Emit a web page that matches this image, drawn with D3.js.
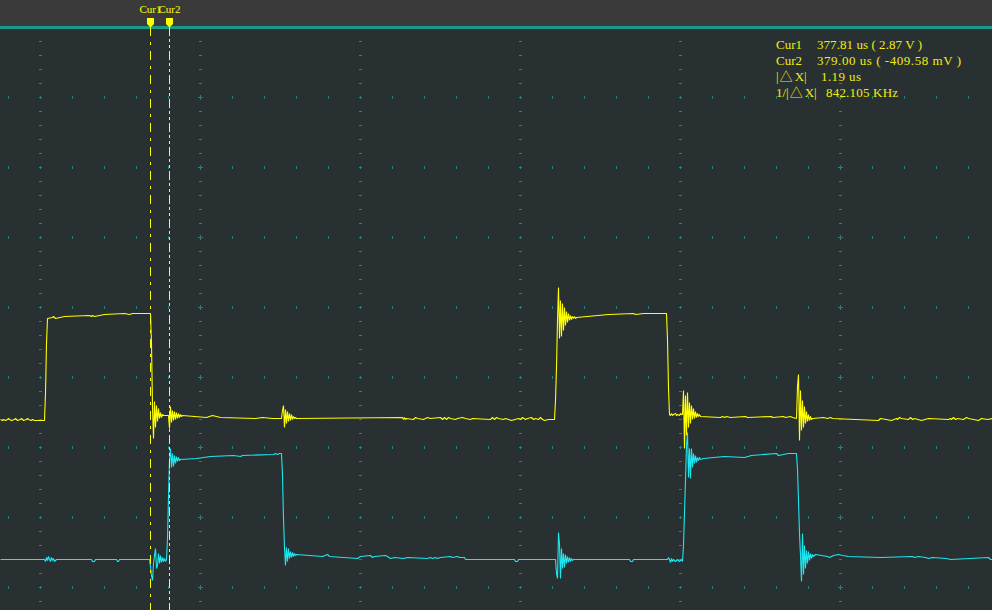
<!DOCTYPE html>
<html><head><meta charset="utf-8">
<script src="https://cdn.jsdelivr.net/npm/d3@7"></script>
<style>html,body{margin:0;padding:0;background:#293031;overflow:hidden}svg{display:block}</style>
</head><body><svg id="c" width="992" height="610"></svg>
<script>
// ---- Data: [sample index, ADC counts above channel ground] (35 counts = 1 V, 70 counts / div) ----
const ch1 = [[0,0],[2,-1],[3,0],[5,-1],[7,0],[8,1],[9,0],[11,-1],[14,0],[15,1],[16,0],[17,-1],[20,0],[21,1],[22,0],[23,-1],[26,0],[27,1],[28,0],[31,-1],[32,0],[34,-1],[44,-1],
[45,26],[46,76],[47,101],[52,102],[53,103],[54,102],[55,101],[64,103],[89,104],[91,103],[92,104],[94,103],[104,105],[124,106],[129,105],[132,106],[150,106],
[151,76],[152,13],[153,-19],[154,18],[155,-8],[156,14],[157,-2],[158,11],[159,1],[160,7],[161,2],[162,5],[163,4],[168,4],
[169,-9],[170,13],[171,-3],[172,9],[173,-1],[174,8],[175,0],[176,7],[177,1],[178,6],[179,2],[180,5],[181,3],[182,4],
[206,2],[212,4],[220,2],[255,1],[262,2],[272,1],[281,1],
[282,9],[283,14],[284,-8],[285,10],[286,-4],[287,8],[288,-2],[289,6],[290,-1],[291,5],[292,0],[293,3],[294,1],[295,2],[296,1],
[402,2],[403,0],[404,2],[405,0],[406,1],[413,0],[415,2],[417,1],[423,0],[425,1],[427,2],[430,1],[440,2],[442,0],[444,2],[446,0],[448,2],[450,1],[455,0],[457,1],[462,2],[465,1],[470,0],[472,1],
[490,0],[492,2],[494,0],[496,2],[498,1],[503,0],[505,1],[508,0],[511,-1],[518,1],[520,0],[522,2],[525,0],[527,1],[531,2],[533,0],[535,1],[538,0],[540,2],[542,0],[544,-1],[548,0],[554,0],
[555,19],[556,52],[557,99],[558,132],[559,81],[560,119],[561,83],[562,116],[563,89],[564,112],[565,94],[566,108],[567,97],[568,106],[569,99],[570,104],[571,100],[572,103],[573,101],[574,103],[575,101],[576,102],
[608,105],[633,106],[635,105],[643,106],[666,106],
[667,80],[668,31],[669,5],[670,4],[671,6],[672,4],[673,5],[675,6],[676,4],[677,5],[679,4],[680,6],[681,5],[682,5],
[683,29],[684,-29],[685,24],[686,-16],[687,27],[688,-8],[689,17],[690,-4],[691,14],[692,0],[693,11],[694,1],[695,8],[696,2],[697,6],[698,3],[699,5],[700,3],
[720,2],[722,3],[724,2],[726,3],[730,2],[745,3],[747,2],[771,3],[772,2],[783,3],[785,2],[790,3],[792,2],[796,1],
[797,33],[798,45],[799,-21],[800,29],[801,-11],[802,19],[803,-8],[804,13],[805,-4],[806,8],[807,-2],[808,5],[809,-1],[810,3],[811,0],[812,1],
[823,2],[827,1],[830,2],[832,1],[878,-1],[880,1],[891,-1],[896,1],[897,0],[899,2],[901,1],[908,0],[910,2],[912,0],[914,1],[921,-1],[928,1],
[948,0],[950,1],[951,0],[953,2],[955,0],[957,1],[963,0],[966,2],[968,1],[978,-1],[981,1],[987,0],[992,1]];

const ch2 = [[0,0],[44,0],[45,-2],[46,2],[47,-1],[48,3],[49,0],[50,-2],[51,2],[52,-1],[53,1],[54,-2],[55,-1],[56,0],[91,0],[92,-2],[94,-2],[95,0],[116,0],[117,-2],[118,-2],[119,0],[149,0],
[150,-7],[151,-16],[152,-21],[153,-4],[154,4],[155,11],[156,-9],[157,-6],[158,6],[159,-4],[160,4],[161,-3],[162,2],[163,-2],[164,1],[165,-2],[166,0],
[167,21],[168,63],[169,99],[170,111],[171,92],[172,106],[173,93],[174,104],[175,96],[176,103],[177,98],[178,102],[179,99],[180,100],
[196,101],[210,103],[233,104],[240,103],[242,104],[273,105],[275,106],[277,105],[279,106],[281,106],
[282,84],[283,41],[284,12],[285,-6],[286,12],[287,-2],[288,11],[289,1],[290,8],[291,2],[292,7],[293,3],[294,6],[295,4],[296,5],
[322,3],[327,5],[329,3],[357,1],[360,3],[370,4],[372,2],[374,3],[385,4],[387,3],[390,1],[394,2],[403,1],[407,2],[427,1],[430,2],[432,1],[435,2],[437,1],[440,2],
[450,3],[452,2],[457,3],[459,2],[464,2],[465,0],[514,0],[515,-2],[517,-2],[518,0],[555,0],
[556,-14],[557,-19],[558,27],[559,15],[560,-19],[561,11],[562,-9],[563,6],[564,-8],[565,5],[566,-4],[567,3],[568,-3],[569,2],[570,-2],[571,1],[572,-1],[573,0],
[629,0],[630,-2],[632,-2],[633,0],[667,0],[668,2],[669,0],[670,-3],[671,1],[672,-2],[673,0],[675,-2],[677,0],[679,-2],[681,0],[682,-2],
[683,14],[684,47],[685,79],[686,114],[687,127],[688,82],[689,111],[690,81],[691,111],[692,92],[693,106],[694,96],[695,104],[696,97],[697,102],[698,99],[699,102],[700,100],
[703,101],[724,103],[744,102],[751,104],[776,106],[778,104],[788,106],[796,106],
[797,90],[798,59],[799,26],[800,4],[801,-22],[802,26],[803,-15],[804,14],[805,-9],[806,9],[807,-4],[808,8],[809,-1],[810,6],[811,1],[812,5],[813,3],[815,5],
[827,3],[829,2],[831,3],[833,4],[838,5],[842,4],[848,3],[880,2],[912,3],[914,2],[918,3],[925,2],[928,1],[932,2],[946,1],[950,0],[988,2],[990,0],[992,0]];

const cursorSamples = [150, 169];
const cursorNames = ["Cur1", "Cur2"];
const readoutLabels = ["Cur1", "Cur2", "|\u25B3X|", "1/|\u25B3X|"];
const readoutValues = ["377.81 us ( 2.87 V )", "379.00 us ( -409.58 mV )", "1.19 us", "842.105 KHz"];

// ---- Layout ----
const W = 992, H = 610;
const svg = d3.select("#c");
const xScale = d3.scaleLinear().domain([0, 992]).range([0, W]);
const centerY = 307, divPx = 70;
const y1 = d3.scaleLinear().domain([0, 70]).range([centerY + 1.6 * divPx, centerY + 0.6 * divPx]);
const y2 = d3.scaleLinear().domain([0, 70]).range([centerY + 3.6 * divPx, centerY + 2.6 * divPx]);

svg.append("rect").attr("width", W).attr("height", H).attr("fill", "#293031");
svg.append("rect").attr("width", W).attr("height", 26).attr("fill", "#3a3a3a");
svg.append("rect").attr("y", 26).attr("width", W).attr("height", 3).attr("fill", "#1a9a88");

// grid
const gridC = "#1d8677";
const g = svg.append("g").attr("shape-rendering", "crispEdges").attr("fill", gridC);
const cols = d3.range(40, W, 160);
const rows = d3.range(97, H, 70);
const dashYs = d3.range(41, H, 14).filter(y => (y - 27) % 70 !== 0);
cols.forEach(cx => {
  g.selectAll(null).data(dashYs).enter().append("rect")
    .attr("x", cx - 1).attr("y", d => d).attr("width", 3).attr("height", 1);
});
const tickXs = d3.range(8, W, 32).filter(x => (x - 40) % 160 !== 0);
rows.forEach(ry => {
  g.selectAll(null).data(tickXs).enter().append("rect")
    .attr("x", d => d).attr("y", ry - 1).attr("width", 1).attr("height", 3);
  cols.forEach(cx => {
    const s = (cx === 200 || cx === 840) ? 2 : 1;
    g.append("rect").attr("x", cx - s).attr("y", ry).attr("width", 2 * s + 1).attr("height", 1);
    g.append("rect").attr("x", cx).attr("y", ry - s).attr("width", 1).attr("height", 2 * s + 1);
  });
});

// traces
const tg = svg.append("g").attr("transform", "translate(0.5,0.5)");
const line2 = d3.line().x(d => xScale(d[0])).y(d => y2(d[1])).curve(d3.curveLinear);
const line1 = d3.line().x(d => xScale(d[0])).y(d => y1(d[1])).curve(d3.curveLinear);
tg.append("path").datum(ch2).attr("d", line2).attr("fill", "none").attr("stroke", "#1ee6f0").attr("stroke-width", 1.1).attr("stroke-linejoin", "bevel");
tg.append("path").datum(ch1).attr("d", line1).attr("fill", "none").attr("stroke", "#ffff00").attr("stroke-width", 1.1).attr("stroke-linejoin", "bevel");

// cursors
const dashes = ["9,6,3,6", "9,3,3,3,3,3"];
cursorSamples.forEach((s, i) => {
  const cx = Math.round(xScale(s)) + 0.5;
  svg.append("line").attr("x1", cx).attr("x2", cx).attr("y1", 27).attr("y2", H)
    .attr("stroke", "#ffff00").attr("stroke-width", 1).attr("stroke-dasharray", dashes[i]);
  svg.append("path").attr("d", `M${cx-3.5},18 H${cx+3.5} V24 L${cx+0.5},27 H${cx-0.5} L${cx-3.5},24 Z`).attr("fill", "#ffff00");
  svg.append("text").attr("x", cx).attr("y", 13).attr("text-anchor", "middle")
    .attr("font-family", "'Liberation Serif', 'Times New Roman', serif").attr("font-size", 11)
    .attr("fill", "#ffff00").text(cursorNames[i]);
});

// readout
const valX = [817, 817, 821, 826];
const valW = [105, 144, 40, 72];
const rt = svg.append("g").attr("font-family", "'Liberation Serif', 'Times New Roman', serif").attr("font-size", 13).attr("fill", "#eeee10");
readoutLabels.forEach((lab, i) => {
  const yy = 49 + i * 16;
  const t = rt.append("text").attr("x", 776).attr("y", yy);
  lab.split(/(\u25B3)/).filter(p => p).forEach(p => {
    const ts = t.append("tspan").text(p);
    if (p === "\u25B3") ts.attr("font-family", "'Noto Sans CJK SC', 'DejaVu Sans', sans-serif").attr("font-size", 13).attr("dx", 1);
    else if (p.startsWith("X")) ts.attr("dx", 2);
  });
  rt.append("text").attr("x", valX[i]).attr("y", yy)
    .attr("textLength", valW[i]).attr("lengthAdjust", "spacing").text(readoutValues[i]);
});
</script></body></html>
